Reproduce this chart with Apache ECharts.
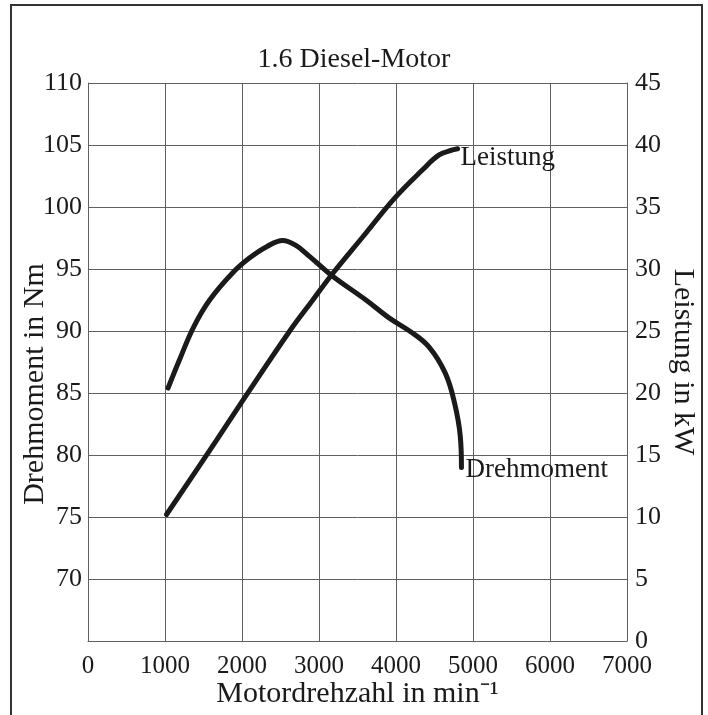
<!DOCTYPE html>
<html>
<head>
<meta charset="utf-8">
<script src="https://cdn.jsdelivr.net/npm/echarts@6/dist/echarts.min.js"></script>
<style>
  html, body { margin: 0; padding: 0; background: #fff; }
  #chart { width: 708px; height: 715px; }
</style>
</head>
<body>
<div id="chart"></div>
<script>
// Drehmoment (Nm) ueber Drehzahl
const torqueRpm = [1040, 1190, 1370, 1580, 1880, 2100, 2320, 2530, 2700, 2880, 3160, 3610, 3900, 4200, 4430, 4640, 4760, 4835, 4850]
const torqueNm = [85.4, 87.7, 90.3, 92.5, 94.7, 95.9, 96.8, 97.3, 96.9, 96.0, 94.5, 92.5, 91.1, 89.9, 88.7, 86.6, 84.2, 81.5, 79.0]

// Leistung (kW) ueber Drehzahl
const powerRpm = [1020, 1670, 2000, 2620, 2920, 3160, 3570, 3980, 4345, 4560, 4735, 4800]
const powerKw = [10.2, 16.2, 19.3, 25.0, 27.5, 29.5, 32.6, 35.7, 38.0, 39.2, 39.6, 39.7]

const font = 'Liberation Serif'
const ink = '#1a1a1a'
const gridColor = '#606060'

let myChart = echarts.init(document.getElementById('chart'))
myChart.setOption({
  animation: false,
  backgroundColor: '#fff',
  title: {
    text: '1.6 Diesel-Motor',
    left: 'center',
    top: 41,
    textStyle: { fontFamily: font, fontSize: 28, fontWeight: 'normal', color: ink }
  },
  graphic: [
    {
      type: 'rect',
      shape: { x: 11, y: 5, width: 691, height: 720 },
      style: { fill: 'none', stroke: '#333', lineWidth: 2 }
    }
  ],
  grid: {
    left: 88,
    right: 81,
    top: 83,
    bottom: 74,
    containLabel: false,
    outerBoundsMode: 'none'
  },
  xAxis: {
    type: 'value',
    min: 0,
    max: 7000,
    interval: 1000,
    name: 'Motordrehzahl in min⁻¹',
    nameLocation: 'middle',
    nameGap: 38,
    nameMoveOverlap: false,
    nameTextStyle: { fontFamily: font, fontSize: 30, color: ink },
    axisLine: { show: true, lineStyle: { color: gridColor, width: 1 } },
    axisTick: { show: false },
    axisLabel: { fontFamily: font, fontSize: 25, color: ink, margin: 13, formatter: v => String(v) },
    splitLine: { show: true, lineStyle: { color: gridColor, width: 1 } }
  },
  yAxis: [
    {
      type: 'value',
      min: 65,
      max: 110,
      interval: 5,
      position: 'left',
      name: 'Drehmoment in Nm',
      nameLocation: 'middle',
      nameRotate: 90,
      nameGap: 38,
      nameMoveOverlap: false,
      nameTextStyle: { fontFamily: font, fontSize: 30, color: ink, padding: [0, 0, 0, -44] },
      axisLine: { show: true, lineStyle: { color: gridColor, width: 1 } },
      axisTick: { show: false },
      axisLabel: {
        fontFamily: font, fontSize: 26, color: ink, margin: 6,
        formatter: v => (v === 65 ? '' : v)
      },
      splitLine: { show: true, lineStyle: { color: gridColor, width: 1 } }
    },
    {
      type: 'value',
      min: 0,
      max: 45,
      interval: 5,
      position: 'right',
      name: 'Leistung in kW',
      nameLocation: 'middle',
      nameRotate: -90,
      nameGap: 41,
      nameMoveOverlap: false,
      nameTextStyle: { fontFamily: font, fontSize: 30, color: ink },
      axisLine: { show: true, lineStyle: { color: gridColor, width: 1 } },
      axisTick: { show: false },
      axisLabel: { fontFamily: font, fontSize: 26, color: ink, margin: 8 },
      splitLine: { show: false }
    }
  ],
  series: [
    {
      name: 'Drehmoment',
      type: 'line',
      yAxisIndex: 0,
      smooth: 0.4,
      symbol: 'none',
      data: torqueRpm.map((r, i) => [r, torqueNm[i]]),
      lineStyle: { color: ink, width: 5, cap: 'round' },
      endLabel: {
        show: true,
        formatter: '{a}',
        fontFamily: font,
        fontSize: 27,
        color: ink,
        distance: 4,
        offset: [0, 3]
      }
    },
    {
      name: 'Leistung',
      type: 'line',
      yAxisIndex: 1,
      smooth: 0.4,
      symbol: 'none',
      data: powerRpm.map((r, i) => [r, powerKw[i]]),
      lineStyle: { color: ink, width: 5, cap: 'round' },
      endLabel: {
        show: true,
        formatter: '{a}',
        fontFamily: font,
        fontSize: 27,
        color: ink,
        distance: 3,
        offset: [0, 9]
      }
    }
  ],
  color: [ink, ink]
})
</script>
</body>
</html>
